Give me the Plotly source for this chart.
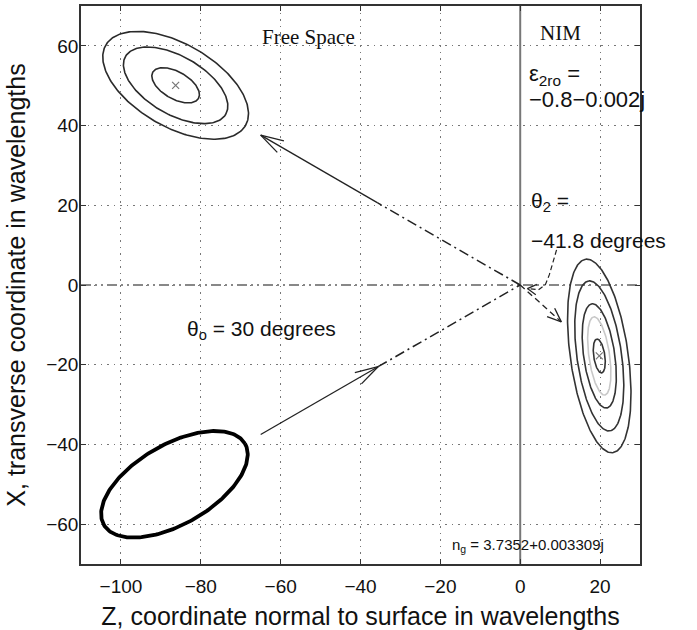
import numpy as np
import plotly.graph_objects as go

# ---------------- data ----------------
x_ticks = [-100, -80, -60, -40, -20, 0, 20]
y_ticks = [-60, -40, -20, 0, 20, 40, 60]
z_range = [-110, 30]
x_range = [-70, 70]

# reflected beam contours (free space, upper left)
refl_center = [-86.3, 50.1]
refl_semi_major = [20.2, 14.5, 6.6]
refl_semi_minor = [10.4, 7.3, 3.4]
refl_tilt_deg = -30

# incident beam contour (free space, lower left)
inc_center = [-86.6, -50.0]
inc_semi_major = [20.4]
inc_semi_minor = [10.0]
inc_tilt_deg = 30

# refracted beam contours (NIM, right)
refr_center = [19.8, -17.8]
refr_semi_major = [24.5, 19.0, 13.2, 9.9, 4.3]
refr_semi_minor = [7.25, 5.6, 3.9, 2.6, 1.4]
refr_colors = ["#333333", "#333333", "#333333", "#c8c8c8", "#333333"]
refr_tilt_deg = 98

# ray paths  (z, x)
inc_arrow_tail = [-65.0, -37.5]
inc_arrow_tip = [-35.6, -20.5]
refl_arrow_tail = [-35.7, 20.6]
refl_arrow_tip = [-65.0, 37.6]
origin = [0.0, 0.0]
refr_arrow_tip = [10.3, -9.25]
angle_pointer_z = [9.1, 7.3, 6.3, 4.6, 1.8]
angle_pointer_x = [8.8, 2.6, 0.1, -1.2, -0.9]

interface_z = 0
axis_x = 0

# ---------------- helpers ----------------
def ellipse(c, a, b, tilt_deg, n=240):
    t = np.linspace(0, 2 * np.pi, n)
    p = np.radians(tilt_deg)
    z = c[0] + a * np.cos(t) * np.cos(p) - b * np.sin(t) * np.sin(p)
    x = c[1] + a * np.cos(t) * np.sin(p) + b * np.sin(t) * np.cos(p)
    return z, x


def head(tail, tip, length, half_angle_deg=16):
    d = np.array(tip) - np.array(tail)
    d = d / np.linalg.norm(d)
    pts_z, pts_x = [], []
    for s in (1, -1):
        a = np.radians(s * half_angle_deg)
        r = np.array([d[0] * np.cos(a) - d[1] * np.sin(a), d[0] * np.sin(a) + d[1] * np.cos(a)])
        b = np.array(tip) - length * r
        pts_z += [b[0], tip[0], None]
        pts_x += [b[1], tip[1], None]
    return pts_z, pts_x


fig = go.Figure()

def line(z, x, color="#222222", width=1.5, dash="solid"):
    fig.add_trace(go.Scatter(x=z, y=x, mode="lines", line=dict(color=color, width=width, dash=dash),
                             hoverinfo="skip", showlegend=False))

# interface and axis
line([interface_z, interface_z], x_range, color="#777777", width=2)
line(z_range, [axis_x, axis_x], color="#888888", width=2, dash="10px,4px,2px,4px,2px,4px")

# ellipses
for a, b in zip(refl_semi_major, refl_semi_minor):
    z, x = ellipse(refl_center, a, b, refl_tilt_deg)
    line(z, x, color="#2a2a2a", width=1.6)
for a, b in zip(inc_semi_major, inc_semi_minor):
    z, x = ellipse(inc_center, a, b, inc_tilt_deg)
    line(z, x, color="#000000", width=3.8)
for a, b, c in zip(refr_semi_major, refr_semi_minor, refr_colors):
    z, x = ellipse(refr_center, a, b, refr_tilt_deg)
    line(z, x, color=c, width=1.6)

# centre markers
fig.add_trace(go.Scatter(x=[refl_center[0], refr_center[0]], y=[refl_center[1], refr_center[1]],
                         mode="markers", marker=dict(symbol="x-thin", size=7, line=dict(color="#777777", width=1.2)),
                         hoverinfo="skip", showlegend=False))

# rays
dashdot = "10px,4px,2px,4px"
line([inc_arrow_tail[0], inc_arrow_tip[0]], [inc_arrow_tail[1], inc_arrow_tip[1]], width=1.3)
hz, hx = head(inc_arrow_tail, inc_arrow_tip, 6)
line(hz, hx, width=1.3)
line([inc_arrow_tip[0], origin[0]], [inc_arrow_tip[1], origin[1]], width=1.5, dash=dashdot)

line([refl_arrow_tail[0], refl_arrow_tip[0]], [refl_arrow_tail[1], refl_arrow_tip[1]], width=1.3)
hz, hx = head(refl_arrow_tail, refl_arrow_tip, 6)
line(hz, hx, width=1.3)
line([origin[0], refl_arrow_tail[0]], [origin[1], refl_arrow_tail[1]], width=1.5, dash=dashdot)

line([origin[0], refr_arrow_tip[0]], [origin[1], refr_arrow_tip[1]], width=1.3, dash="6px,4px")
hz, hx = head(origin, refr_arrow_tip, 3.8, 22)
line(hz, hx, width=1.3)

line(angle_pointer_z, angle_pointer_x, width=1.2, dash="5px,3px")
hz, hx = head([angle_pointer_z[-2], angle_pointer_x[-2]], [angle_pointer_z[-1], angle_pointer_x[-1]], 2.6, 30)
line(hz, hx, width=1.2)

# ---------------- text ----------------
sans = "Liberation Sans, Arial, sans-serif"
serif = "Liberation Serif, Times New Roman, serif"

def text(z, x, s, size=21, family=sans, xanchor="left"):
    fig.add_annotation(x=z, y=x, text=s, showarrow=False, xanchor=xanchor, yanchor="middle",
                       font=dict(family=family, size=size, color="#111111"))

text(-53.1, 62.3, "Free Space", size=21, family=serif, xanchor="center")
text(10.2, 63.2, "NIM", size=21, family=serif, xanchor="center")
text(1.6, 52.8, "ε<sub>2ro</sub> =", size=22)
text(1.6, 46.5, "−0.8−0.002j", size=22)
text(2.2, 20.75, "θ<sub>2</sub> =", size=21)
text(2.2, 11.1, "−41.8 degrees", size=21)
text(-84.0, -11.25, "θ<sub>o</sub> = 30 degrees", size=21)
text(-17.6, -65.25, "n<sub>g</sub> = 3.7352+0.003309j", size=15)

axis_common = dict(showgrid=True, gridcolor="#777777", gridwidth=1, griddash="1.5px,5px",
                   zeroline=False, showline=True, linecolor="#333333", linewidth=1.6, mirror="ticks",
                   ticks="inside", ticklen=5, tickcolor="#333333",
                   tickfont=dict(family=sans, size=19, color="#111111"))

fig.update_layout(
    width=697, height=630,
    margin=dict(l=81, r=57, t=4, b=66),
    paper_bgcolor="white", plot_bgcolor="white",
    xaxis=dict(range=z_range, tickvals=x_ticks, ticklabelstandoff=4, **axis_common,
               title=dict(text="Z, coordinate normal to surface in wavelengths",
                          font=dict(family=sans, size=25, color="#111111"), standoff=12)),
    yaxis=dict(range=x_range, tickvals=y_ticks, ticklabelstandoff=-3, **axis_common,
               title=dict(text="X, transverse coordinate in wavelengths",
                          font=dict(family=sans, size=25, color="#111111"), standoff=13)),
)

fig.write_html("out.html")
